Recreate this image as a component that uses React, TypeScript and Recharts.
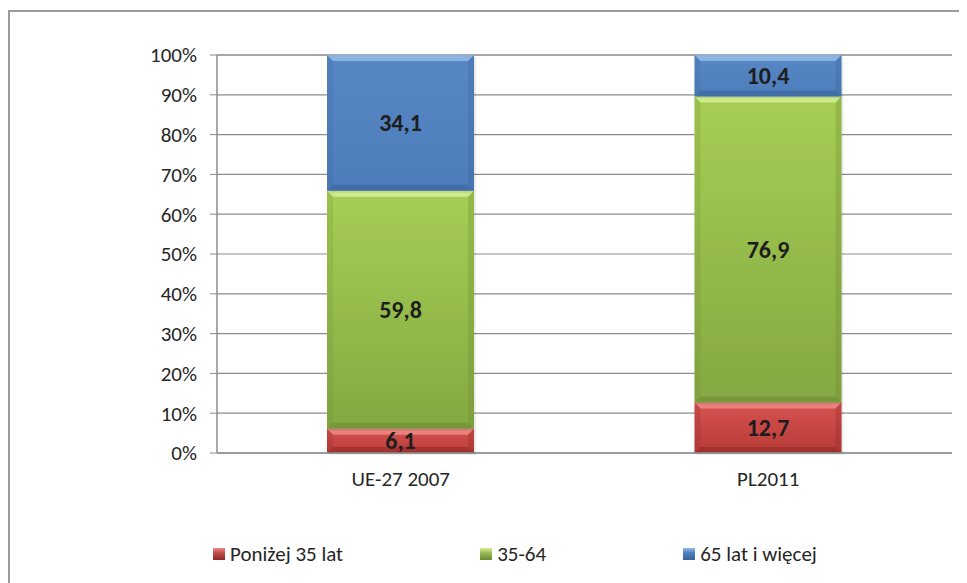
import React from "react";
import { BarChart, Bar, XAxis, YAxis, CartesianGrid, Legend, LabelList } from "recharts";

// age structure, 100% stacked
const categories = ["UE-27 2007", "PL2011"];
const under35 = [6.1, 12.7];
const age35to64 = [59.8, 76.9];
const over65 = [34.1, 10.4];
const seriesNames = ["Poniżej 35 lat", "35-64", "65 lat i więcej"];
const yTicks = [0, 10, 20, 30, 40, 50, 60, 70, 80, 90, 100];

const data = categories.map((name, i) => ({
  name,
  under35: under35[i],
  mid: age35to64[i],
  over65: over65[i],
}));

const FONT = "Carlito, Calibri, 'Open Sans', sans-serif";

type Palette = { id: string; top: string; bottom: string; light: string; dark: string; swatch: string };

const PALETTE: Palette[] = [
  { id: "red", top: "#d65350", bottom: "#b83b38", light: "#ee8a86", dark: "#8e2a28", swatch: "#c0504d" },
  { id: "green", top: "#a7ce55", bottom: "#84a842", light: "#d6ee95", dark: "#6b8a32", swatch: "#9bbb59" },
  { id: "blue", top: "#5887c6", bottom: "#4d7dbb", light: "#95bbe8", dark: "#3a6398", swatch: "#4f81bd" },
];

const fmt = (v: number) => v.toFixed(1).replace(".", ",");

function BevelBar(props: any) {
  const { x, y, width, height, pal } = props;
  if (!height || height <= 0) return null;
  const b = Math.min(6, height / 3);
  return (
    <g>
      <rect x={x + 2} y={y + 2} width={width} height={height} fill="#000" opacity={0.08} />
      <rect x={x} y={y} width={width} height={height} fill={`url(#g-${pal.id})`} />
      <polygon
        points={`${x},${y} ${x + width},${y} ${x + width - b},${y + b} ${x + b},${y + b}`}
        fill={pal.light}
        opacity={0.85}
      />
      <polygon
        points={`${x},${y + height} ${x + width},${y + height} ${x + width - b},${y + height - b} ${x + b},${y + height - b}`}
        fill={pal.dark}
        opacity={0.55}
      />
      <polygon
        points={`${x},${y} ${x + b},${y + b} ${x + b},${y + height - b} ${x},${y + height}`}
        fill={pal.dark}
        opacity={0.2}
      />
      <polygon
        points={`${x + width},${y} ${x + width - b},${y + b} ${x + width - b},${y + height - b} ${x + width},${y + height}`}
        fill={pal.dark}
        opacity={0.3}
      />
    </g>
  );
}

const renderLegend = () => (
  <div style={{ display: "flex", gap: 137, fontFamily: FONT, fontSize: 21, color: "#262626" }}>
    {seriesNames.map((n, i) => (
      <div key={n} style={{ display: "flex", alignItems: "center", whiteSpace: "nowrap" }}>
        <span
          style={{
            display: "inline-block",
            width: 12,
            height: 12,
            marginRight: 5,
            background: `linear-gradient(${PALETTE[i].light}, ${PALETTE[i].swatch} 40%, ${PALETTE[i].dark})`,
          }}
        />
        {n}
      </div>
    ))}
  </div>
);

const labelStyle = { fill: "#1e1e1e", fontSize: 24, fontWeight: 700, fontFamily: FONT };

export default function App() {
  return (
    <div
      style={{
        marginTop: 2,
        width: 957,
        height: 571,
        borderLeft: "2px solid #9a9a9a",
        borderTop: "2px solid #9a9a9a",
        background: "#fff",
      }}
    >
      <BarChart
        width={957}
        height={571}
        data={data}
        margin={{ top: 43, right: 15, bottom: 100, left: 147 }}
        barSize={147}
      >
        <defs>
          {PALETTE.map((p) => (
            <linearGradient key={p.id} id={`g-${p.id}`} x1="0" y1="0" x2="0" y2="1">
              <stop offset="0%" stopColor={p.top} />
              <stop offset="100%" stopColor={p.bottom} />
            </linearGradient>
          ))}
        </defs>
        <CartesianGrid vertical={false} stroke="#8c8c8c" strokeWidth={1.2} />
        <XAxis
          dataKey="name"
          interval={0}
          tickLine={false}
          axisLine={{ stroke: "#8c8c8c", strokeWidth: 1.5 }}
          tickMargin={12}
          tick={{ fontSize: 21, fill: "#262626", fontFamily: FONT }}
        />
        <YAxis
          width={60}
          domain={[0, 100]}
          ticks={yTicks}
          tickFormatter={(v: number) => `${v}%`}
          axisLine={{ stroke: "#8c8c8c", strokeWidth: 1.5 }}
          tickLine={{ stroke: "#8c8c8c" }}
          tickSize={7}
          tickMargin={13}
          tick={{ fontSize: 21, fill: "#262626", fontFamily: FONT }}
        />
        <Legend
          content={renderLegend}
          verticalAlign="middle"
          wrapperStyle={{ left: 203, top: 529, width: 750 }}
        />
        <Bar dataKey="under35" name={seriesNames[0]} stackId="s" isAnimationActive={false}
          shape={(p: any) => <BevelBar {...p} pal={PALETTE[0]} />}>
          <LabelList dataKey="under35" position="center" formatter={fmt} style={labelStyle} />
        </Bar>
        <Bar dataKey="mid" name={seriesNames[1]} stackId="s" isAnimationActive={false}
          shape={(p: any) => <BevelBar {...p} pal={PALETTE[1]} />}>
          <LabelList dataKey="mid" position="center" formatter={fmt} style={labelStyle} />
        </Bar>
        <Bar dataKey="over65" name={seriesNames[2]} stackId="s" isAnimationActive={false}
          shape={(p: any) => <BevelBar {...p} pal={PALETTE[2]} />}>
          <LabelList dataKey="over65" position="center" formatter={fmt} style={labelStyle} />
        </Bar>
      </BarChart>
    </div>
  );
}
